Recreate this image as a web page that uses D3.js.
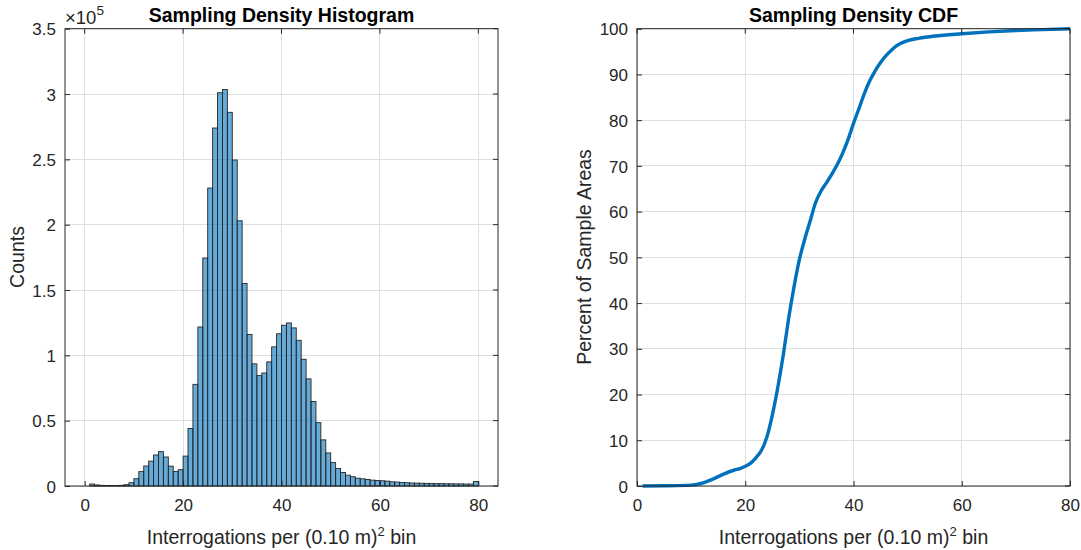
<!DOCTYPE html>
<html>
<head>
<meta charset="utf-8">
<script src="https://cdn.jsdelivr.net/npm/d3@7"></script>
<style>
  html, body { margin: 0; padding: 0; background: #fff; }
  svg { display: block; font-family: "Liberation Sans", Arial, Helvetica, sans-serif; }
</style>
</head>
<body>
<svg id="chart" width="1081" height="550"></svg>
<script>
// ---------------- DATA ----------------
// Histogram: bin left edges (bin width 1) and counts
const binStarts = d3.range(1, 80); // 1..79 -> bins [k, k+1]
const binCounts = [
  1500, 800, 500, 400, 400, 400, 500, 1000, 2500, 5600,
  11000, 15300, 19000, 23700, 26300, 22200, 15200, 11100, 12500, 22900,
  44000, 77800, 121700, 174500, 228000, 274000, 301000, 303500, 286000, 249500,
  203000, 155000, 116000, 93500, 84500, 86500, 95000, 106500, 116500, 123000,
  124800, 121000, 111500, 97000, 82000, 64700, 48500, 35300, 25300, 17900,
  13400, 10300, 8300, 7100, 6000, 5500, 5000, 4500, 4200, 4000,
  3700, 3200, 3000, 2700, 2500, 2300, 2200, 2100, 2000, 1900,
  1800, 1800, 1700, 1700, 1600, 1600, 1500, 1500, 3500
];
const histXTicks = [0, 20, 40, 60, 80];
const histYTicks = [0, 0.5, 1, 1.5, 2, 2.5, 3, 3.5]; // x 10^5

// CDF: x values and percent
const cdfX = [1, 5, 10, 12, 14, 16, 18, 19, 20, 21, 22, 23, 24, 25, 26, 27, 28, 29, 30,
  31, 32, 33, 34, 35, 36, 37, 38, 39, 40, 41, 42, 43, 44, 45, 46, 47, 48, 50, 52, 55,
  60, 65, 70, 75, 80];
const cdfY = [0, 0.05, 0.2, 0.6, 1.5, 2.6, 3.5, 3.8, 4.3, 5.0, 6.2, 7.8, 10.7, 15.5, 21.5, 28.5, 36.5, 43.5, 49.5,
  54, 58, 62, 64.5, 66.3, 68.2, 70.3, 72.8, 75.8, 79.3, 82.5, 85.8, 88.6, 90.8, 92.6, 94.1, 95.3, 96.3, 97.4, 97.9, 98.4,
  98.9, 99.3, 99.6, 99.8, 100];
const cdfXTicks = [0, 20, 40, 60, 80];
const cdfYTicks = [0, 10, 20, 30, 40, 50, 60, 70, 80, 90, 100];

const titles = ["Sampling Density Histogram", "Sampling Density CDF"];
const yLabels = ["Counts", "Percent of Sample Areas"];

// ---------------- DRAW ----------------
const svg = d3.select("#chart");
const AX = "#262626";
const GRID = "#dfdfdf";
const TICK_FS = 17;
const LABEL_FS = 19.5;

function drawFrame(g, x, y, xTicks, yTicks) {
  const [x0, x1] = x.range();
  const [y0, y1] = y.range();
  g.append("g").selectAll("line").data(xTicks).join("line")
    .attr("x1", d => x(d)).attr("x2", d => x(d))
    .attr("y1", y0).attr("y2", y1)
    .attr("stroke", GRID).attr("stroke-width", 1).attr("shape-rendering", "crispEdges");
  g.append("g").selectAll("line").data(yTicks).join("line")
    .attr("y1", d => y(d)).attr("y2", d => y(d))
    .attr("x1", x0).attr("x2", x1)
    .attr("stroke", GRID).attr("stroke-width", 1).attr("shape-rendering", "crispEdges");
}

function drawAxes(g, x, y, xTicks, yTicks, yFmt) {
  const [x0, x1] = x.range();
  const [y0, y1] = y.range();
  const tl = 5;
  const xb = g.append("g").attr("transform", `translate(0,${y0})`)
    .call(d3.axisBottom(x).tickValues(xTicks).tickSizeInner(-tl).tickSizeOuter(0).tickPadding(14).tickFormat(d3.format("d")));
  const yl = g.append("g").attr("transform", `translate(${x0},0)`)
    .call(d3.axisLeft(y).tickValues(yTicks).tickSizeInner(-tl).tickSizeOuter(0).tickPadding(14).tickFormat(yFmt));
  [xb, yl].forEach(a => {
    a.select(".domain").remove();
    a.selectAll("line").attr("stroke", AX).attr("stroke-width", 1);
    a.selectAll("text").attr("fill", AX).attr("font-size", TICK_FS).attr("font-family", null);
  });
  xb.selectAll("text").attr("dy", "0.71em").attr("y", 13);
  yl.selectAll("text").attr("x", -9).attr("dy", "0.36em");
  g.append("g").selectAll("line").data(xTicks).join("line")
    .attr("x1", d => x(d)).attr("x2", d => x(d)).attr("y1", y1).attr("y2", y1 + tl)
    .attr("stroke", AX);
  g.append("g").selectAll("line").data(yTicks).join("line")
    .attr("y1", d => y(d)).attr("y2", d => y(d)).attr("x1", x1).attr("x2", x1 - tl)
    .attr("stroke", AX);
  g.append("rect").attr("x", x0).attr("y", y1).attr("width", x1 - x0).attr("height", y0 - y1)
    .attr("fill", "none").attr("stroke", AX).attr("stroke-width", 1);
}

function xLabel(g, cx, yb) {
  const t = g.append("text").attr("x", cx).attr("y", yb).attr("text-anchor", "middle")
    .attr("fill", AX).attr("font-size", LABEL_FS);
  t.append("tspan").text("Interrogations per (0.10 m)");
  t.append("tspan").attr("font-size", 13).attr("dy", -8).text("2");
  t.append("tspan").attr("dy", 8).text(" bin");
}

function yLabel(g, xb, cy, text) {
  g.append("text").attr("transform", `translate(${xb},${cy}) rotate(-90)`)
    .attr("text-anchor", "middle").attr("fill", AX).attr("font-size", LABEL_FS).text(text);
}

function title(g, cx, yb, text) {
  g.append("text").attr("x", cx).attr("y", yb).attr("text-anchor", "middle")
    .attr("fill", "#000").attr("font-size", 19.5).attr("font-weight", "bold").text(text);
}

// ---- Left: histogram ----
const xH = d3.scaleLinear().domain([-4, 84]).range([65, 498]);
const yH = d3.scaleLinear().domain([0, 3.5]).range([486, 28.7]);
const gL = svg.append("g");
drawFrame(gL, xH, yH, histXTicks, histYTicks);
const bins = binStarts.map((s, i) => ({ x0: s, x1: s + 1, c: binCounts[i] / 1e5 }));
gL.append("g").selectAll("rect").data(bins).join("rect")
  .attr("x", d => xH(d.x0)).attr("width", d => xH(d.x1) - xH(d.x0))
  .attr("y", d => yH(d.c)).attr("height", d => yH(0) - yH(d.c))
  .attr("fill", "#0072BD").attr("fill-opacity", 0.6)
  .attr("stroke", "#262626").attr("stroke-width", 0.9);
drawAxes(gL, xH, yH, histXTicks, histYTicks, d => d3.format("")(d));
const ex = gL.append("text").attr("x", 65).attr("y", 23.5).attr("fill", AX).attr("font-size", 18.5);
ex.append("tspan").text("\u00d710");
ex.append("tspan").attr("font-size", 13.5).attr("dy", -9).text("5");
title(gL, 281.5, 22, titles[0]);
xLabel(gL, 281.5, 544);
yLabel(gL, 24, 257, yLabels[0]);

// ---- Right: CDF ----
const xC = d3.scaleLinear().domain([0, 80]).range([637, 1070]);
const yC = d3.scaleLinear().domain([0, 100]).range([486, 28.7]);
const gR = svg.append("g");
drawFrame(gR, xC, yC, cdfXTicks, cdfYTicks);
const pts = cdfX.map((v, i) => [v, cdfY[i]]);
gR.append("path").datum(pts)
  .attr("d", d3.line().x(d => xC(d[0])).y(d => yC(d[1])).curve(d3.curveMonotoneX))
  .attr("fill", "none").attr("stroke", "#0072BD").attr("stroke-width", 3.4)
  .attr("stroke-linejoin", "round").attr("stroke-linecap", "butt");
drawAxes(gR, xC, yC, cdfXTicks, cdfYTicks, d3.format("d"));
title(gR, 853.5, 22, titles[1]);
xLabel(gR, 853.5, 544);
yLabel(gR, 591, 257, yLabels[1]);
</script>
</body>
</html>
